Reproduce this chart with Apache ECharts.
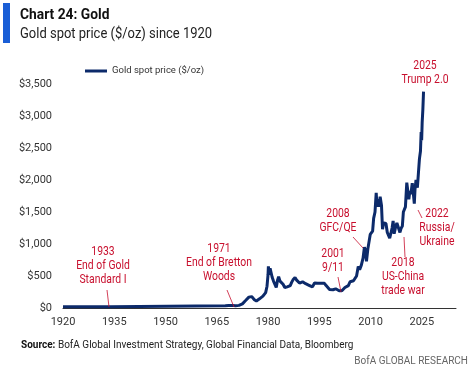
<!DOCTYPE html>
<html>
    <head>
        <meta charset="utf-8">
        <script src="https://cdn.jsdelivr.net/npm/echarts@6/dist/echarts.min.js"></script>
    </head>
    <body>
        <style>
            html, body {
                margin: 0;
                padding: 0;
                background: #fff;
            }
            #main {
                width: 475px;
                height: 377px;
            }
        </style>
        <div id="main"></div>
        <script>
            // gold spot price, $/oz as [year, price]
            var goldPrice = [
                [1920.0, 20.67], [1933.9, 20.67], [1934.1, 35], [1967.5, 35],
                [1968.5, 40], [1969.5, 41], [1970.5, 36], [1971.5, 41],
                [1972.0, 48], [1972.5, 65], [1973.0, 66], [1973.5, 120],
                [1974.0, 130], [1974.4, 170], [1974.8, 180], [1975.2, 178],
                [1975.6, 160], [1976.0, 130], [1976.6, 110], [1977.0, 133],
                [1977.5, 143], [1978.0, 170], [1978.5, 185], [1978.9, 200],
                [1979.3, 240], [1979.7, 340], [1980.0, 520], [1980.1, 650],
                [1980.3, 520], [1980.6, 620], [1980.9, 590], [1981.2, 480],
                [1981.6, 420], [1981.9, 400], [1982.4, 320], [1982.8, 440],
                [1983.1, 490], [1983.5, 420], [1983.9, 390], [1984.4, 370],
                [1984.9, 320], [1985.2, 300], [1985.6, 330], [1986.0, 345],
                [1986.5, 350], [1986.9, 400], [1987.3, 440], [1987.9, 475],
                [1988.3, 440], [1988.7, 410], [1989.2, 390], [1989.7, 370],
                [1990.1, 410], [1990.6, 380], [1991.0, 380], [1991.5, 365],
                [1992.0, 355], [1992.5, 340], [1993.0, 330], [1993.6, 390],
                [1994.0, 385], [1994.5, 385], [1995.0, 380], [1995.5, 385],
                [1996.0, 405], [1996.5, 385], [1997.0, 350], [1997.5, 330],
                [1998.0, 290], [1998.5, 295], [1999.0, 285], [1999.5, 255],
                [1999.8, 300], [2000.3, 280], [2000.8, 270], [2001.2, 260],
                [2001.6, 270], [2002.0, 280], [2002.5, 320], [2003.0, 350],
                [2003.5, 350], [2004.0, 410], [2004.5, 390], [2005.0, 425],
                [2005.5, 430], [2005.9, 500], [2006.4, 650], [2006.8, 600],
                [2007.3, 670], [2007.8, 780], [2008.2, 950], [2008.5, 900],
                [2008.8, 730], [2009.2, 920], [2009.6, 950], [2009.9, 1150],
                [2010.3, 1150], [2010.6, 1200], [2010.9, 1400], [2011.3, 1500],
                [2011.65, 1800], [2011.9, 1580], [2012.2, 1700], [2012.5, 1580],
                [2012.8, 1740], [2013.2, 1600], [2013.5, 1230], [2013.8, 1330],
                [2014.2, 1300], [2014.5, 1320], [2014.9, 1180], [2015.2, 1210],
                [2015.6, 1090], [2015.9, 1060], [2016.3, 1250], [2016.6, 1360],
                [2016.9, 1160], [2017.3, 1260], [2017.7, 1330], [2018.0, 1340],
                [2018.6, 1180], [2018.9, 1240], [2019.3, 1280], [2019.6, 1500],
                [2019.9, 1480], [2020.2, 1580], [2020.6, 1960], [2020.9, 1830],
                [2021.2, 1700], [2021.5, 1830], [2021.8, 1780], [2022.2, 1950],
                [2022.5, 1800], [2022.8, 1630], [2023.0, 1850], [2023.3, 2000],
                [2023.7, 1880], [2023.95, 2070], [2024.3, 2330], [2024.6, 2450],
                [2024.8, 2750], [2024.95, 2620], [2025.1, 2900], [2025.3, 3100],
                [2025.5, 3380]
            ];

            var yearTicks = [1920, 1935, 1950, 1965, 1980, 1995, 2010, 2025];
            var priceTicks = [0, 500, 1000, 1500, 2000, 2500, 3000, 3500];

            // event notes: label lines, text anchor, leader line
            var notes = [
                { text: '1933\nEnd of Gold\nStandard I', at: [103, 245], line: [[107, 290], [109, 307]] },
                { text: '1971\nEnd of Bretton\nWoods', at: [219, 242], line: [[227, 290], [234, 307]] },
                { text: '2001\n9/11', at: [333, 247], line: [[338, 277], [341, 292]] },
                { text: '2008\nGFC/QE', at: [338, 207], line: [[353, 237], [363, 248]] },
                { text: '2025\nTrump 2.0', at: [425, 59], line: null },
                { text: '2022\nRussia/\nUkraine', at: [437, 207], line: [[418, 210], [422, 218]] },
                { text: '2018\nUS-China\ntrade war', at: [403, 256], line: [[404, 237], [405, 257]] }
            ];

            // no condensed face installed, so squeeze Roboto a little
            var font = "Roboto, 'Noto Sans', sans-serif";
            var red = '#c8102e';
            var navy = '#0c2a6a';

            var chart = echarts.init(document.getElementById('main'));

            var graphics = [
                { type: 'rect', shape: { x: 3, y: 3, width: 7, height: 40 }, style: { fill: '#1a5ed6' } },
                { type: 'text', x: 20, y: 15, scaleX: 0.92, style: { text: 'Chart 24: Gold', font: 'bold 15px ' + font, fill: '#111', textVerticalAlign: 'middle' } },
                { type: 'text', x: 20, y: 34, scaleX: 0.865, style: { text: 'Gold spot price ($/oz) since 1920', font: '15px ' + font, fill: '#222', textVerticalAlign: 'middle' } },
                {
                    type: 'text', x: 21, y: 345, scaleX: 0.87,
                    style: {
                        text: '{b|Source:} BofA Global Investment Strategy, Global Financial Data, Bloomberg',
                        font: '11.5px ' + font, fill: '#222', textVerticalAlign: 'middle',
                        rich: { b: { fontWeight: 'bold', fontSize: 11.5, fontFamily: font, fill: '#111' } }
                    }
                },
                { type: 'text', x: 468, y: 361, scaleX: 0.87, style: { text: 'BofA GLOBAL RESEARCH', font: '11.5px ' + font, fill: '#666', textAlign: 'right', textVerticalAlign: 'middle' } }
            ];

            notes.forEach(function (n) {
                graphics.push({
                    type: 'text', x: n.at[0], y: n.at[1], z: 10, scaleX: 0.8,
                    style: { text: n.text, font: '13px ' + font, fill: red, textAlign: 'center', textVerticalAlign: 'top', lineHeight: 14 }
                });
                if (n.line) {
                    graphics.push({
                        type: 'line', z: 10,
                        shape: { x1: n.line[0][0], y1: n.line[0][1], x2: n.line[1][0], y2: n.line[1][1] },
                        style: { stroke: red, lineWidth: 0.8 }
                    });
                }
            });

            chart.setOption({
                animation: false,
                textStyle: { fontFamily: font },
                grid: { left: 63, right: 19, top: 84, bottom: 69 },
                legend: {
                    left: 85, top: 66, padding: 0,
                    icon: 'rect', itemWidth: 22, itemHeight: 3,
                    textStyle: { fontSize: 9.5, color: '#333', fontFamily: font },
                    data: ['Gold spot price ($/oz)']
                },
                xAxis: {
                    type: 'value',
                    min: 1920, max: 2035, interval: 15,
                    splitLine: { show: false },
                    axisTick: { show: false },
                    axisLine: { lineStyle: { color: '#333', width: 1 } },
                    axisLabel: {
                        color: '#333', fontSize: 11, margin: 9, showMaxLabel: false,
                        formatter: function (v) { return yearTicks.indexOf(v) >= 0 ? String(v) : ''; }
                    }
                },
                yAxis: {
                    type: 'value',
                    min: priceTicks[0], max: priceTicks[priceTicks.length - 1], interval: 500,
                    splitLine: { show: false },
                    axisLine: { show: false },
                    axisTick: { show: false },
                    axisLabel: {
                        color: '#333', fontSize: 11, margin: 11,
                        formatter: function (v) { return '$' + v.toLocaleString('en-US'); }
                    }
                },
                series: [{
                    name: 'Gold spot price ($/oz)',
                    type: 'line',
                    symbol: 'none',
                    lineStyle: { color: navy, width: 3 },
                    itemStyle: { color: navy },
                    data: goldPrice
                }],
                graphic: graphics
            });
        </script>
    </body>
</html>
